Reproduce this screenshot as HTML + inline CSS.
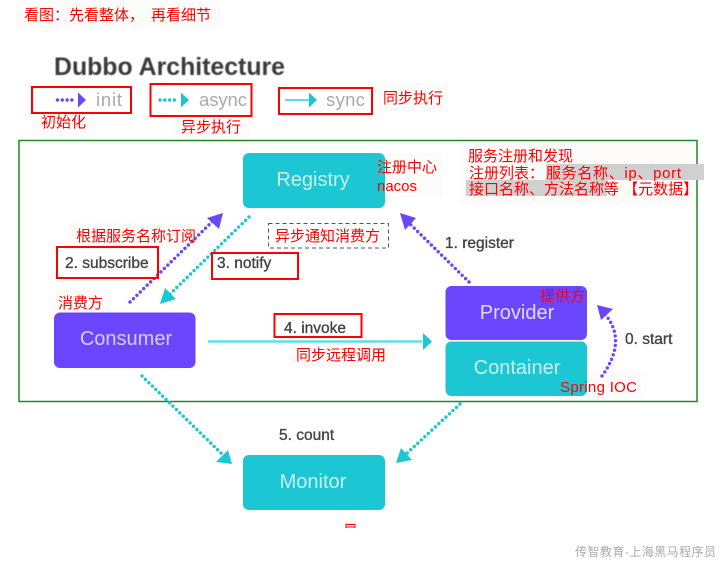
<!DOCTYPE html>
<html><head><meta charset="utf-8">
<style>
html,body{margin:0;padding:0;background:#fff;width:728px;height:562px;overflow:hidden}
svg{display:block}
text{font-family:"Liberation Sans","Noto Sans CJK SC",sans-serif}
.r{fill:#f00;font-size:15px}
.d{fill:#444;font-size:15.500px;stroke:#444;stroke-width:.35px;filter:blur(.3px)}
.g{fill:#aaa;font-size:18.500px;filter:blur(.3px)}
.n{font-size:20px;text-anchor:middle;filter:blur(.3px)}
.box{fill:none;stroke:#f00;stroke-width:2}
.pd{fill:none;stroke:#6a47ff;stroke-width:3.400;stroke-linecap:round;stroke-dasharray:0 4.800}
.td{fill:none;stroke:#1cc7d3;stroke-width:3.400;stroke-linecap:round;stroke-dasharray:0 4.800}
</style></head>
<body>
<svg width="728" height="562" viewBox="0 0 728 562" xmlns="http://www.w3.org/2000/svg">
<rect width="728" height="562" fill="#fff"/>

<!-- faint label backgrounds -->
<g fill="#fefcfa">
<rect x="16" y="1" width="204" height="27"/>
<rect x="32" y="114" width="62" height="20"/>
<rect x="172" y="117" width="78" height="20"/>
<rect x="378" y="83" width="70" height="28"/>
<rect x="68" y="223" width="139" height="26"/>
<rect x="50" y="289" width="61" height="22"/>
<rect x="288" y="345" width="106" height="22"/>
<rect x="552" y="372" width="94" height="26"/>
<rect x="460" y="142" width="242" height="62"/>
<rect x="385" y="153" width="57" height="44"/>
</g>

<!-- green frame -->
<rect x="19" y="140.500" width="678" height="261" fill="none" stroke="#1f8a24" stroke-width="1.500"/>

<!-- title -->
<text x="54" y="75" font-size="25" font-weight="bold" fill="#3a3a3a" textLength="231" lengthAdjust="spacingAndGlyphs" style="filter:blur(.4px)">Dubbo Architecture</text>

<!-- legend -->
<path class="pd" d="M57.500 100H76"/><path d="M78 92.500L86 100L78 107.500Z" fill="#6a47ff"/>
<text class="g" x="96" y="106" textLength="26">init</text>
<path class="td" d="M160 100H179"/><path d="M181 92.500L189 100L181 107.500Z" fill="#1cc7d3"/>
<text class="g" x="199" y="106" textLength="48">async</text>
<path d="M285 100H310" stroke="#5fdde4" stroke-width="2"/><path d="M309 92.500L317 100L309 107.500Z" fill="#1cc7d3"/>
<text class="g" x="326" y="106" textLength="39">sync</text>

<rect class="box" x="32" y="87" width="99" height="26"/>
<rect class="box" x="150.500" y="84" width="101" height="32"/>
<rect class="box" x="279" y="88" width="93" height="26"/>

<!-- nodes -->
<rect x="243" y="153" width="142" height="55" rx="6" fill="#1cc7d3"/>
<rect x="243" y="455" width="142" height="55" rx="6" fill="#1cc7d3"/>
<rect x="54" y="312.500" width="141.500" height="55.500" rx="6" fill="#6a47ff"/>
<rect x="445.500" y="286" width="141.500" height="54" rx="6" fill="#6a47ff"/>
<rect x="445.500" y="341.500" width="141.500" height="54.500" rx="6" fill="#1cc7d3"/>
<text class="n" x="313" y="186" fill="#c6f2f5">Registry</text>
<text class="n" x="313" y="488" fill="#c6f2f5">Monitor</text>
<text class="n" x="126" y="345" fill="#d6ccff">Consumer</text>
<text class="n" x="517" y="319" fill="#e0d9ff">Provider</text>
<text class="n" x="517" y="374" fill="#c6f2f5">Container</text>

<!-- connectors -->
<path class="pd" d="M130 302L216 218"/><path d="M223 213L219 229L207 218Z" fill="#6a47ff"/>
<path class="td" d="M249 217L168 296"/><path d="M160 304L165 288L176 299Z" fill="#1cc7d3"/>
<path class="pd" d="M469 282L406 220"/><path d="M400 213L416 218L405 230Z" fill="#6a47ff"/>
<path d="M208 341.500H422" stroke="#5fdde4" stroke-width="2.500"/><path d="M423 333L432 341.500L423 350Z" fill="#1cc7d3"/>
<path class="td" d="M142 376L224 456"/><path d="M232 464L216 462L228 450Z" fill="#1cc7d3"/>
<path class="td" d="M460 404L404 456"/><path d="M396 463L401 448L412 460Z" fill="#1cc7d3"/>
<path class="pd" d="M602 376Q628 340 604 313"/><path d="M597 305L613 309L601 320Z" fill="#6a47ff"/>

<!-- connector labels -->
<text class="d" x="445" y="248">1. register</text>
<text class="d" x="65" y="268">2. subscribe</text>
<text class="d" x="217" y="268">3. notify</text>
<text class="d" x="284" y="333">4. invoke</text>
<text class="d" x="279" y="440">5. count</text>
<text class="d" x="625" y="344">0. start</text>

<rect class="box" x="57" y="247" width="101" height="31"/>
<rect class="box" x="212" y="253" width="86" height="26"/>
<rect class="box" x="274.500" y="314" width="87" height="23"/>
<rect x="268.500" y="223.500" width="120" height="24.500" fill="none" stroke="#555" stroke-width="1" stroke-dasharray="4 3"/>

<!-- grey highlights -->
<rect x="546" y="164" width="158" height="16" fill="#d0d0d0"/>
<rect x="466" y="180" width="141" height="16" fill="#d0d0d0"/>

<!-- red annotations -->
<text class="r" x="24" y="20">看图：先看整体，</text>
<text class="r" x="151" y="20">再看细节</text>
<text class="r" x="41" y="127">初始化</text>
<text class="r" x="181" y="132">异步执行</text>
<text class="r" x="383" y="103">同步执行</text>
<text class="r" x="76" y="241">根据服务名称订阅</text>
<text class="r" x="275" y="241">异步通知消费方</text>
<text class="r" x="377" y="172">注册中心</text>
<text class="r" x="377" y="191">nacos</text>
<text class="r" x="468" y="161">服务注册和发现</text>
<text class="r" x="469" y="178">注册列表：</text>
<text class="r" x="546" y="178" textLength="135">服务名称、ip、port</text>
<text class="r" x="469" y="194">接口名称、方法名称等 【元数据】</text>
<text class="r" x="58" y="308">消费方</text>
<text class="r" x="296" y="360">同步远程调用</text>
<text class="r" x="540" y="301">提供方</text>
<text class="r" x="560" y="392" textLength="77">Spring IOC</text>

<!-- small red mark -->
<path d="M346 523.500V528M355 523.500V528M346 524.500H355M346 527H355" stroke="#f00" stroke-width="1" fill="none"/>

<!-- watermark -->
<text x="575" y="556" font-size="12" fill="#aaa" textLength="141" style="filter:blur(.3px)">传智教育-上海黑马程序员</text>
</svg>
</body></html>
